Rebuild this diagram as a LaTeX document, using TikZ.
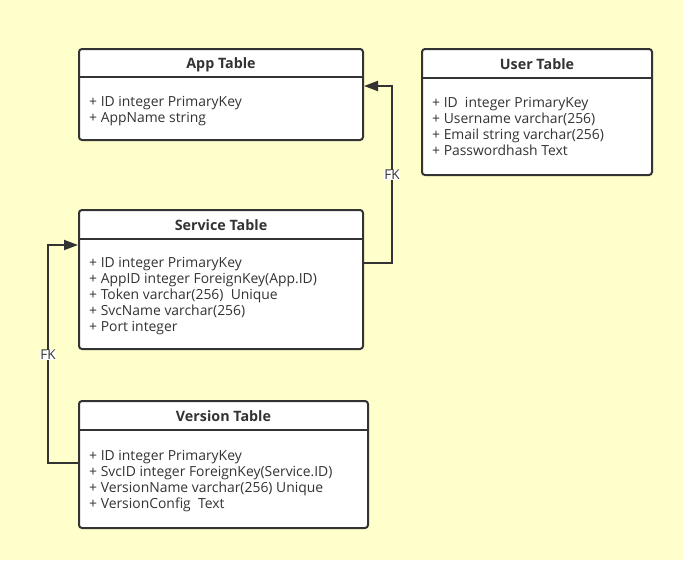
\documentclass[tikz,border=0pt]{standalone}
\usepackage{fontspec}
\setmainfont{Open Sans}
\usetikzlibrary{arrows.meta,calc}
\definecolor{bg}{HTML}{FFFFCC}
\definecolor{ln}{HTML}{333333}
\tikzset{
  tbl/.style={draw=ln, line width=2pt, fill=white, rounded corners=3pt, anchor=north west, inner sep=0pt},
  sep/.style={draw=ln, line width=2pt},
  ttl/.style={font=\bfseries\fontsize{14.3}{16}\selectfont, text=ln, inner sep=0pt},
  body/.style={font=\fontsize{13.9}{16}\selectfont, text=ln, align=left, anchor=north west, inner sep=0pt},
  conn/.style={draw=ln, line width=2pt, -{Triangle[length=14pt,width=10pt]}},
  fk/.style={fill=white, text=ln, font=\fontsize{13.5}{14}\selectfont, inner sep=0.5pt}
}
\begin{document}
\begin{tikzpicture}[x=1pt,y=-1pt]
\fill[bg] (0,0) rectangle (683,560);
\useasboundingbox (0,0) rectangle (683,560);

% App Table
\node[tbl, minimum width=284pt, minimum height=91pt] (app) at (78,48) {};
\draw[sep] ([yshift=-29pt]app.north west) -- ([yshift=-29pt]app.north east);
\node[ttl] (appt) at ($(app.north)+(0,16.5)$) {App Table};
\node[body] (appb) at ($(app.north west)+(11,48.5)$) {+ ID integer PrimaryKey\\+ AppName string};

% User Table
\node[tbl, minimum width=230pt, minimum height=126pt] (usr) at (421,48) {};
\draw[sep] ([yshift=-30pt]usr.north west) -- ([yshift=-30pt]usr.north east);
\node[ttl] (usrt) at ($(usr.north)+(0,16.5)$) {User Table};
\node[body] (usrb) at ($(usr.north west)+(11,49.5)$) {+ ID\ \ integer PrimaryKey\\+ Username varchar(256)\\+ Email string varchar(256)\\+ Passwordhash Text};

% Service Table
\node[tbl, minimum width=284pt, minimum height=139pt] (svc) at (78,209) {};
\draw[sep] ([yshift=-30pt]svc.north west) -- ([yshift=-30pt]svc.north east);
\node[ttl] (svct) at ($(svc.north)+(0,16.5)$) {Service Table};
\node[body] (svcb) at ($(svc.north west)+(11,48.5)$) {+ ID integer PrimaryKey\\+ AppID integer ForeignKey(App.ID)\\+ Token varchar(256)\ \ Unique\\+ SvcName varchar(256)\\+ Port integer};

% Version Table
\node[tbl, minimum width=289pt, minimum height=127pt] (ver) at (78,400) {};
\draw[sep] ([yshift=-30pt]ver.north west) -- ([yshift=-30pt]ver.north east);
\node[ttl] (vert) at ($(ver.north)+(0,16.5)$) {Version Table};
\node[body] (verb) at ($(ver.north west)+(11,50.5)$) {+ ID integer PrimaryKey\\+ SvcID integer ForeignKey(Service.ID)\\+ VersionName varchar(256) Unique\\+ VersionConfig\ \ Text};

% Connectors
\coordinate (fk1) at (392,175);
\coordinate (fk2) at (48,355);
\draw[conn] ([yshift=-54pt]svc.north east) -| (fk1) |- ([yshift=-38pt]app.north east);
\draw[conn] ([yshift=-63pt]ver.north west) -| (fk2) |- ([yshift=-36pt]svc.north west);
\node[fk] (fk1l) at (fk1) {FK};
\node[fk] (fk2l) at (fk2) {FK};
\end{tikzpicture}
\end{document}
